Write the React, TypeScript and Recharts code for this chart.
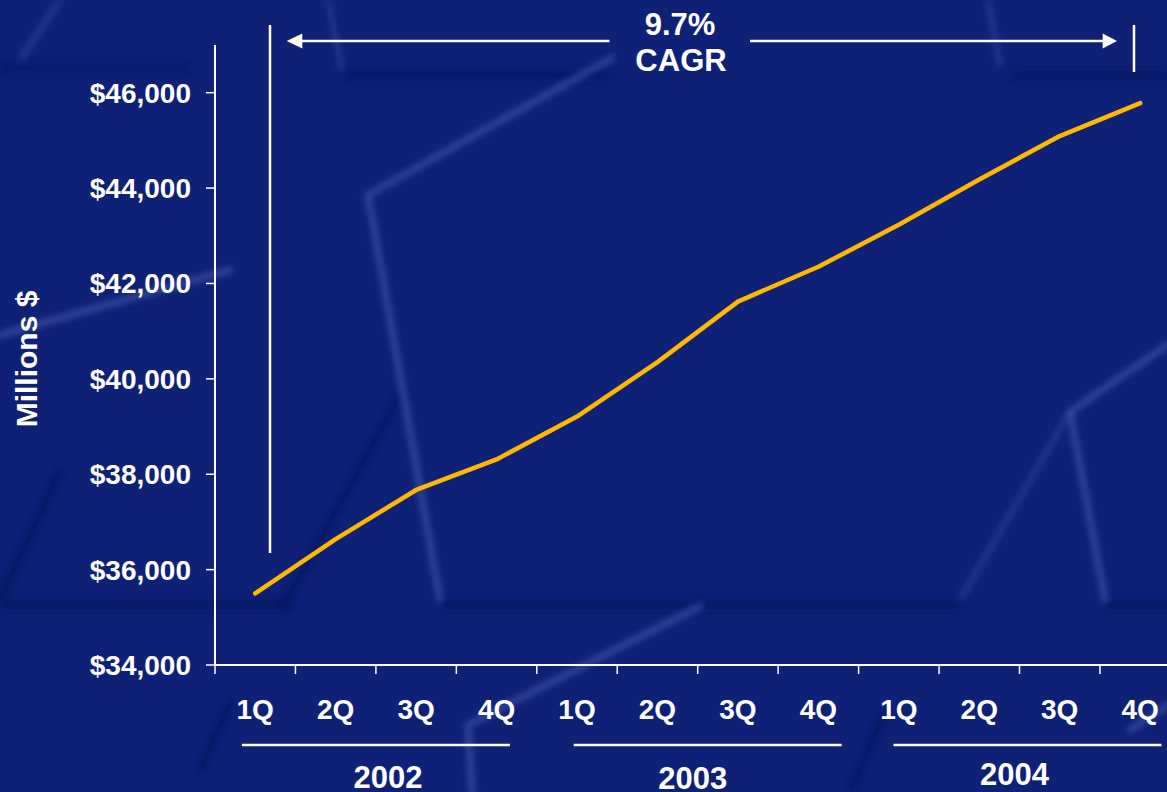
import React from 'react';
import { LineChart, Line, XAxis, YAxis } from 'recharts';

// ---- data ----
const quarters = ['1Q', '2Q', '3Q', '4Q', '1Q', '2Q', '3Q', '4Q', '1Q', '2Q', '3Q', '4Q'];
const years = ['2002', '2003', '2004'];
const revenue = [35500, 36640, 37670, 38310, 39210, 40350, 41620, 42350, 43230, 44180, 45090, 45780];
const yTicks = [34000, 36000, 38000, 40000, 42000, 44000, 46000];
const yDomain: [number, number] = [34000, 47000];

// quarter slots on a numeric scale: boundaries at integers, points at the middle
const boundaryTicks = quarters.map((_, i) => i);
const centerTicks = quarters.map((_, i) => i + 0.5);
const yearTicks = years.map((_, i) => i * 4 + 2);

const data = revenue.map((value, i) => ({ pos: i + 0.5, quarter: quarters[i], value }));

// compound annual growth over the span (quarters -> years)
const cagr = Math.pow(revenue[revenue.length - 1] / revenue[0], 4 / (revenue.length - 1)) - 1;
const cagrText = `${(cagr * 100).toFixed(1)}%`;

// ---- look ----
const FONT = "Arial, 'Liberation Sans', Helvetica, sans-serif";
const BG = '#0f2077';
const LINE = '#ffb800';
const W = 1200;
const H = 792;

// hand placement of the year captions relative to their group centre
const yearNudge = [
  { text: 12, line: 0, base: 54 },
  { text: -5, line: 10, base: 55 },
  { text: -5, line: 8, base: 51 },
];

const QuarterTick = (props: any) => {
  const { x, y, payload } = props;
  const idx = Math.floor(payload.value);
  return (
    <text x={x} y={y + 45} textAnchor="middle" fill="#fff" fontSize={28} fontWeight="bold" fontFamily={FONT}>
      {quarters[idx]}
    </text>
  );
};

const YearTick = (props: any) => {
  const { x, y, index } = props;
  const n = yearNudge[index] || { text: 0, line: 0, base: 54 };
  return (
    <g>
      <line x1={x + n.line - 134} x2={x + n.line + 134} y1={y + 11} y2={y + 11} stroke="#fff" strokeWidth={2.5} />
      <text x={x + n.text} y={y + n.base} textAnchor="middle" fill="#fff" fontSize={31} fontWeight="bold" fontFamily={FONT}>
        {years[index]}
      </text>
    </g>
  );
};

const Backdrop = () => (
  <svg width={1167} height={792} style={{ position: 'absolute', left: 0, top: 0 }}>
    <defs>
      <filter id="soft" x="-20%" y="-20%" width="140%" height="140%">
        <feGaussianBlur stdDeviation="3" />
      </filter>
      <filter id="softer" x="-20%" y="-50%" width="140%" height="200%">
        <feGaussianBlur stdDeviation="4" />
      </filter>
    </defs>
    {/* shadow bands */}
    <g filter="url(#softer)" fill="#061257" opacity={0.55}>
      <rect x={0} y={64} width={190} height={8} />
      <rect x={345} y={70} width={265} height={9} />
      <rect x={1012} y={71} width={160} height={9} />
      <rect x={0} y={600} width={290} height={9} />
      <rect x={440} y={600} width={520} height={9} />
      <rect x={1105} y={600} width={70} height={9} />
    </g>
    <g filter="url(#soft)" stroke="#061257" strokeWidth={7} fill="none" opacity={0.55}>
      <path d="M283 607 L400 395" />
      <path d="M200 770 L232 700" />
      <path d="M850 792 L885 712" />
      <path d="M0 600 L60 470" />
    </g>
    {/* light edges */}
    <g filter="url(#soft)" stroke="#6f86d8" strokeWidth={6} fill="none" strokeLinecap="round" opacity={0.4}>
      <path d="M368 195 L612 58" />
      <path d="M368 195 L440 600" />
      <path d="M700 606 L468 725 L472 792" />
      <path d="M1070 412 L1167 345" />
      <path d="M1070 412 L1105 600" />
      <path d="M0 335 L230 270" />
      <path d="M1130 730 L1167 706" />
    </g>
    <g filter="url(#soft)" stroke="#6f86d8" strokeWidth={5} fill="none" opacity={0.25}>
      <path d="M960 600 L1070 412" />
      <path d="M328 0 L342 70" />
      <path d="M988 0 L1000 66" />
      <path d="M60 0 L20 60" />
    </g>
  </svg>
);

const Annotation = () => (
  <svg width={1167} height={792} style={{ position: 'absolute', left: 0, top: 0, pointerEvents: 'none' }}>
    <g stroke="#fff" strokeWidth={2.5}>
      <line x1={270} x2={270} y1={25} y2={553} />
      <line x1={300} x2={609.5} y1={41} y2={41} />
      <line x1={750} x2={1104} y1={41} y2={41} />
      <line x1={1134} x2={1134} y1={25} y2={72} />
    </g>
    <polygon points="286.7,41 302.3,33.5 302.3,48.5" fill="#fff" />
    <polygon points="1117,41 1102.7,33.5 1102.7,48.5" fill="#fff" />
    <g fill="#fff" fontSize={31} fontWeight="bold" fontFamily={FONT} textAnchor="middle">
      <text x={680} y={34.5}>{cagrText}</text>
      <text x={681} y={71}>CAGR</text>
    </g>
    <text
      transform="translate(37 359) rotate(-90)"
      textAnchor="middle"
      fill="#fff"
      fontSize={30}
      fontWeight="bold"
      fontFamily={FONT}
    >
      Millions $
    </text>
  </svg>
);

export default function App() {
  return (
    <div
      style={{
        position: 'absolute',
        left: 0,
        top: 0,
        width: 1167,
        height: 792,
        overflow: 'hidden',
        background: BG,
      }}
    >
      <Backdrop />
      <div style={{ position: 'absolute', left: 0, top: 0 }}>
        <LineChart width={W} height={H} data={data} margin={{ top: 45, right: 19.6, bottom: 0, left: 0 }}>
          <YAxis
            width={215}
            type="number"
            domain={yDomain}
            ticks={yTicks}
            interval={0}
            allowDataOverflow
            tickFormatter={(v: number) => `$${v.toLocaleString('en-US')}`}
            tick={{ fill: '#fff', fontSize: 28, fontWeight: 'bold', fontFamily: FONT }}
            tickSize={9}
            tickMargin={15}
            axisLine={{ stroke: '#fff', strokeWidth: 2 }}
            tickLine={{ stroke: '#fff', strokeWidth: 1.5 }}
          />
          {/* bottom axes stack by id: a (axis line), q (quarters), y (years) */}
          <XAxis
            xAxisId="axis"
            dataKey="pos"
            type="number"
            domain={[0, 12]}
            ticks={boundaryTicks}
            interval={0}
            height={9}
            tickSize={9}
            tickFormatter={() => ''}
            axisLine={{ stroke: '#fff', strokeWidth: 2 }}
            tickLine={{ stroke: '#fff', strokeWidth: 1.5 }}
          />
          <XAxis
            xAxisId="quarterLabels"
            dataKey="pos"
            type="number"
            domain={[0, 12]}
            ticks={centerTicks}
            interval={0}
            height={60}
            tickSize={0}
            tickMargin={0}
            axisLine={false}
            tickLine={false}
            tick={<QuarterTick />}
          />
          <XAxis
            xAxisId="yearLabels"
            dataKey="pos"
            type="number"
            domain={[0, 12]}
            ticks={yearTicks}
            interval={0}
            height={58}
            tickSize={0}
            tickMargin={0}
            axisLine={false}
            tickLine={false}
            tick={<YearTick />}
          />
          <Line
            xAxisId="axis"
            type="linear"
            dataKey="value"
            stroke={LINE}
            strokeWidth={4.5}
            strokeLinecap="round"
            strokeLinejoin="round"
            dot={false}
            activeDot={false}
            isAnimationActive={false}
          />
        </LineChart>
      </div>
      <Annotation />
    </div>
  );
}
